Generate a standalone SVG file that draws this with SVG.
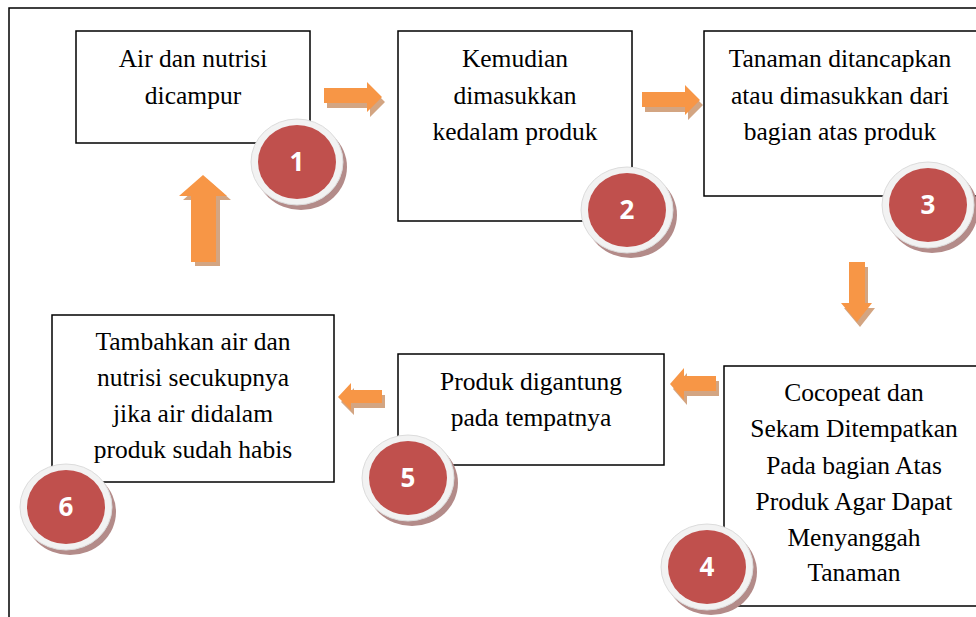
<svg xmlns="http://www.w3.org/2000/svg" width="976" height="617" viewBox="0 0 976 617">
<defs>
<style>
.box{fill:#fff;stroke:#000;stroke-width:1.5}
.t{font-family:"Liberation Serif","Times New Roman",serif;font-size:25.5px;fill:#000;text-anchor:middle}
.ring{fill:#f2f2f2;stroke:#dcdcdc;stroke-width:1}
.sh{fill:#b38b89}
.red{fill:#c0504d}
.num{font-family:"Open Sans","DejaVu Sans",sans-serif;font-size:26px;font-weight:bold;fill:#fff;text-anchor:middle}
.ar{fill:#f79646}
.ars{fill:#d3a582}
</style>
<g id="badge">
<ellipse class="sh" cx="4" cy="5" rx="46" ry="43"/>
<ellipse class="ring" cx="0" cy="0" rx="46" ry="43"/>
<ellipse class="red" cx="0" cy="0" rx="39" ry="37"/>
</g>
<path id="a1" d="M324,88 H367 V82 L382,97 L367,112 V103 H324 Z"/>
<path id="a2" d="M642,92 H685 V85 L700,100 L685,115 V107 H642 Z"/>
<path id="a3" d="M849,262 H865 V303 H872 L857,322 L841,303 H849 Z"/>
<path id="a4" d="M716,376 H684 V368 L670,384 L684,400 V391 H716 Z"/>
<path id="a5" d="M382,390 H351 V383 L338,397 L351,410 V403 H382 Z"/>
<path id="a6" d="M191,262 V196 H179 L203,175 L227,196 H216 V262 Z"/>
</defs>
<rect x="9" y="8" width="980" height="620" fill="none" stroke="#000" stroke-width="1.5"/>
<g id="connectors">
<use href="#a1" class="ars" x="3" y="5"/><use href="#a1" class="ar"/>
<use href="#a2" class="ars" x="3" y="5"/><use href="#a2" class="ar"/>
<use href="#a3" class="ars" x="3" y="5"/><use href="#a3" class="ar"/>
<use href="#a4" class="ars" x="3" y="5"/><use href="#a4" class="ar"/>
<use href="#a5" class="ars" x="3" y="5"/><use href="#a5" class="ar"/>
<use href="#a6" class="ars" x="4" y="4"/><use href="#a6" class="ar"/>
</g>
<g id="n1">
<rect class="box" x="76" y="31" width="234" height="112"/>
<text class="t" x="193" y="67">Air dan nutrisi</text>
<text class="t" x="193" y="104">dicampur</text>
</g>
<g id="n2">
<rect class="box" x="398" y="31" width="234" height="190"/>
<text class="t" x="515" y="67">Kemudian</text>
<text class="t" x="515" y="104">dimasukkan</text>
<text class="t" x="515" y="140">kedalam produk</text>
</g>
<g id="n3">
<rect class="box" x="704" y="31" width="290" height="165"/>
<text class="t" x="840" y="67">Tanaman ditancapkan</text>
<text class="t" x="840" y="104">atau dimasukkan dari</text>
<text class="t" x="840" y="140">bagian atas produk</text>
</g>
<g id="n4">
<rect class="box" x="724" y="366" width="270" height="240"/>
<text class="t" x="854" y="401">Cocopeat dan</text>
<text class="t" x="854" y="437">Sekam Ditempatkan</text>
<text class="t" x="854" y="474">Pada bagian Atas</text>
<text class="t" x="854" y="510">Produk Agar Dapat</text>
<text class="t" x="854" y="546">Menyanggah</text>
<text class="t" x="854" y="581">Tanaman</text>
</g>
<g id="n5">
<rect class="box" x="398" y="354" width="266" height="111"/>
<text class="t" x="531" y="390">Produk digantung</text>
<text class="t" x="531" y="426">pada tempatnya</text>
</g>
<g id="n6">
<rect class="box" x="52" y="315" width="282" height="167"/>
<text class="t" x="193" y="350">Tambahkan air dan</text>
<text class="t" x="193" y="386">nutrisi secukupnya</text>
<text class="t" x="193" y="422">jika air didalam</text>
<text class="t" x="193" y="458">produk sudah habis</text>
</g>
<g id="b1"><use href="#badge" x="297" y="162"/><text class="num" x="297" y="171">1</text></g>
<g id="b2"><use href="#badge" x="627" y="210"/><text class="num" x="627" y="219">2</text></g>
<g id="b3"><use href="#badge" x="928" y="205"/><text class="num" x="928" y="214">3</text></g>
<g id="b4"><use href="#badge" x="707" y="567"/><text class="num" x="707" y="576">4</text></g>
<g id="b5"><use href="#badge" x="408" y="478"/><text class="num" x="408" y="487">5</text></g>
<g id="b6"><use href="#badge" x="66" y="507"/><text class="num" x="66" y="516">6</text></g>
</svg>
